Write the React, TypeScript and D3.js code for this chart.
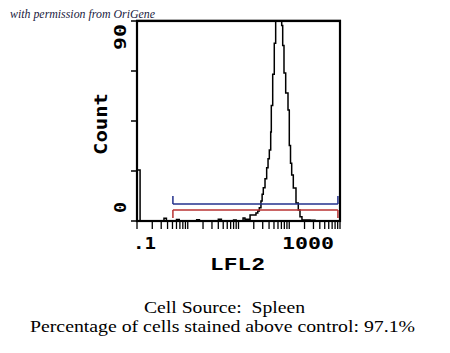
import React, { useEffect, useRef } from 'react';
import * as d3 from 'd3';

// LFL2 channel start values and counts (step histogram)
const binStart = [
  0.1, 0.115, 0.34, 0.38, 0.6, 0.68, 1.5, 1.7, 4, 4.6, 8, 9,
  12.3, 13.4, 16.9, 22.1, 24, 25.7, 27.7, 29.2, 30.8, 33.3, 35.9, 38.2,
  40.5, 43.1, 44.3, 47.2, 50.7, 54,
  71, 74.3, 78.8, 85.1, 94.5, 100.2, 105.9, 111.7, 120.2, 135.8, 150.7,
  162.8, 178, 256, 321, 1000
];
const counts = [
  23, 0, 1.2, 0, 0.7, 0, 0.6, 0, 0.8, 0, 0.5, 0,
  1.3, 0.8, 2.7, 3.6, 4.5, 6, 9, 12, 15, 19, 24, 28,
  32, 40, 52, 66, 80, 90,
  88, 79, 66.6, 57.6, 50, 34, 26, 20.7, 14.9, 8.1, 5,
  1.9, 0.5, 0.3, 0, 0
];

const yTicks = [0, 22.5, 45, 67.5, 90];
const yTickLabels = ['0', '90'];
const xTickLabels = ['.1', '1000'];
const gate = [0.51, 910];

const W = 450;
const H = 353;

const App: React.FC = () => {
  const ref = useRef<SVGSVGElement | null>(null);

  useEffect(() => {
    if (!ref.current) return;
    const svg = d3.select(ref.current);
    svg.selectAll('*').remove();

    const x = d3.scaleLog().domain([0.1, 1000]).range([137, 340]);
    const y = d3.scaleLinear().domain([0, 90]).range([221, 21]);
    const mono = "'DejaVu Sans Mono', monospace";

    svg.append('text')
      .attr('x', 10).attr('y', 18)
      .attr('textLength', 145).attr('lengthAdjust', 'spacingAndGlyphs')
      .style('font-family', "'Liberation Serif', serif")
      .style('font-style', 'italic')
      .style('font-size', '11.5px')
      .attr('fill', '#1a1a40')
      .text('with permission from OriGene');

    // histogram
    const pts: [number, number][] = binStart.map((b, i) => [b, counts[i]]);
    const line = d3.line<[number, number]>()
      .x(d => x(d[0]))
      .y(d => y(Math.min(d[1], 90)))
      .curve(d3.curveStepAfter);
    svg.append('path')
      .attr('d', line(pts) || '')
      .attr('fill', 'none')
      .attr('stroke', '#000')
      .attr('stroke-width', 1.5);

    // gate markers
    const gx0 = x(gate[0]);
    const gx1 = x(gate[1]);
    const blueY = 204;
    const redY = 210;
    svg.append('line').attr('x1', gx0).attr('x2', gx1).attr('y1', blueY).attr('y2', blueY)
      .attr('stroke', '#23308c').attr('stroke-width', 1.5);
    svg.append('line').attr('x1', gx0).attr('x2', gx1).attr('y1', redY).attr('y2', redY)
      .attr('stroke', '#b83232').attr('stroke-width', 1.5);
    [gx0, gx1].forEach(gx => {
      svg.append('line').attr('x1', gx).attr('x2', gx).attr('y1', blueY - 8).attr('y2', blueY)
        .attr('stroke', '#23308c').attr('stroke-width', 1.5);
      svg.append('line').attr('x1', gx).attr('x2', gx).attr('y1', redY).attr('y2', redY + 8)
        .attr('stroke', '#b83232').attr('stroke-width', 1.5);
    });

    // frame (top edge a little heavier)
    svg.append('rect')
      .attr('x', 137).attr('y', 21).attr('width', 203).attr('height', 200)
      .attr('fill', 'none').attr('stroke', '#000').attr('stroke-width', 2.2);
    svg.append('line').attr('x1', 136).attr('x2', 341).attr('y1', 20.5).attr('y2', 20.5)
      .attr('stroke', '#000').attr('stroke-width', 1.5);

    // y ticks
    svg.selectAll('.ytick').data(yTicks).join('line')
      .attr('x1', 131).attr('x2', 137)
      .attr('y1', d => y(d)).attr('y2', d => y(d))
      .attr('stroke', '#000').attr('stroke-width', 1.5);

    // x ticks: 1..9 per decade
    const xTicks: number[] = [];
    for (let e = -1; e < 3; e++) {
      for (let m = 1; m < 10; m++) xTicks.push(m * Math.pow(10, e));
    }
    xTicks.push(1000);
    svg.selectAll('.xtick').data(xTicks).join('line')
      .attr('x1', d => x(d)).attr('x2', d => x(d))
      .attr('y1', 221).attr('y2', 229)
      .attr('stroke', '#000').attr('stroke-width', 1.3);

    // y tick labels
    svg.append('text')
      .attr('transform', 'translate(126,213) rotate(-90)')
      .attr('textLength', 11).attr('lengthAdjust', 'spacingAndGlyphs')
      .style('font-family', mono).style('font-weight', 'bold').style('font-size', '16px')
      .text(yTickLabels[0]);
    svg.append('text')
      .attr('transform', 'translate(126,24) rotate(-90)')
      .attr('text-anchor', 'end')
      .attr('textLength', 26).attr('lengthAdjust', 'spacingAndGlyphs')
      .style('font-family', mono).style('font-weight', 'bold').style('font-size', '16px')
      .text(yTickLabels[1]);

    svg.append('text')
      .attr('transform', 'translate(107,124) rotate(-90)')
      .attr('text-anchor', 'middle')
      .attr('textLength', 62).attr('lengthAdjust', 'spacingAndGlyphs')
      .style('font-family', mono).style('font-weight', 'bold').style('font-size', '18px')
      .text('Count');

    // x tick labels
    svg.append('text')
      .attr('x', 133).attr('y', 249)
      .attr('textLength', 23).attr('lengthAdjust', 'spacingAndGlyphs')
      .style('font-family', mono).style('font-weight', 'bold').style('font-size', '16px')
      .text(xTickLabels[0]);
    svg.append('text')
      .attr('x', 282).attr('y', 249)
      .attr('textLength', 52).attr('lengthAdjust', 'spacingAndGlyphs')
      .style('font-family', mono).style('font-weight', 'bold').style('font-size', '16px')
      .text(xTickLabels[1]);

    svg.append('text')
      .attr('x', 210).attr('y', 270)
      .attr('textLength', 55).attr('lengthAdjust', 'spacingAndGlyphs')
      .style('font-family', "'Liberation Mono', monospace").style('font-weight', 'bold').style('font-size', '18px')
      .text('LFL2');

    // caption
    const serif = "'Liberation Serif', 'Times New Roman', serif";
    svg.append('text')
      .attr('x', 144).attr('y', 312.5)
      .attr('textLength', 161).attr('lengthAdjust', 'spacingAndGlyphs')
      .style('font-family', serif).style('font-size', '16px')
      .style('white-space', 'pre')
      .text('Cell Source:  Spleen');
    svg.append('text')
      .attr('x', 30).attr('y', 331.5)
      .attr('textLength', 385).attr('lengthAdjust', 'spacingAndGlyphs')
      .style('font-family', serif).style('font-size', '16px')
      .text('Percentage of cells stained above control: 97.1%');
  }, []);

  return (
    <svg ref={ref} width={W} height={H}
      style={{ position: 'absolute', left: 0, top: 0, background: '#fff' }} />
  );
};

export default App;
